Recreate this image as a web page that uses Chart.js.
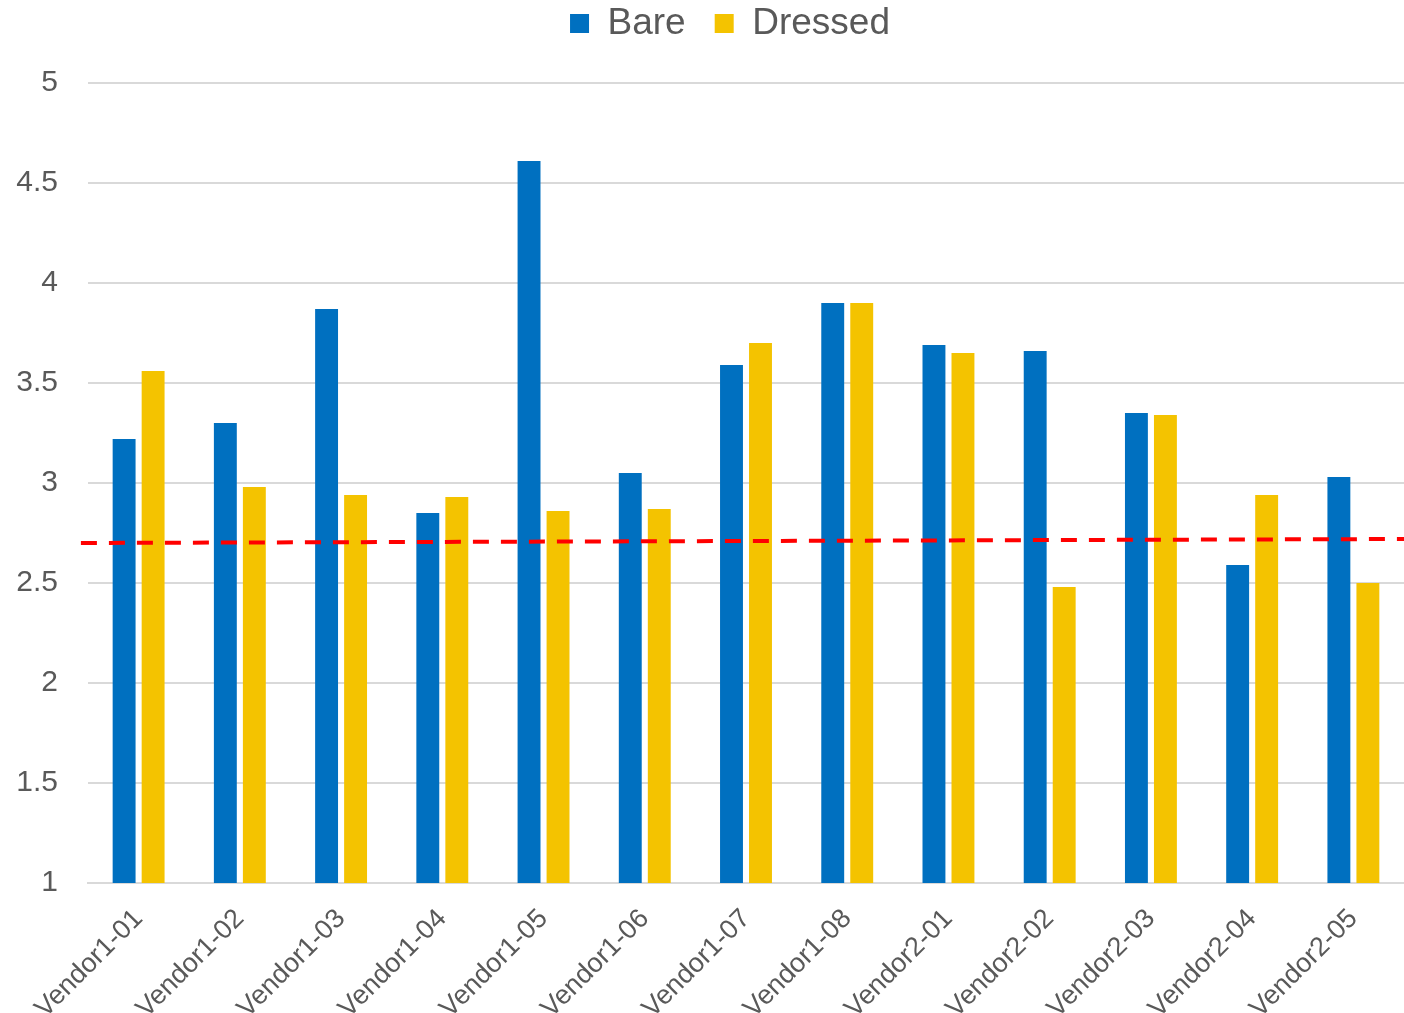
<!DOCTYPE html>
<html>
<head>
<meta charset="utf-8">
<script src="https://cdn.jsdelivr.net/npm/chart.js@4/dist/chart.umd.min.js"></script>
<style>
  html, body { margin: 0; padding: 0; background: #ffffff; }
  #wrap { width: 1404px; height: 1013px; }
</style>
</head>
<body>
<div id="wrap"><canvas id="chart"></canvas></div>
<script>
// Sample names along the x axis
const categories = [
  'Vendor1-01', 'Vendor1-02', 'Vendor1-03', 'Vendor1-04', 'Vendor1-05',
  'Vendor1-06', 'Vendor1-07', 'Vendor1-08', 'Vendor2-01', 'Vendor2-02',
  'Vendor2-03', 'Vendor2-04', 'Vendor2-05'
];

// Measured values per sample
const bareValues    = [3.22, 3.30, 3.87, 2.85, 4.61, 3.05, 3.59, 3.90, 3.69, 3.66, 3.35, 2.59, 3.03];
const dressedValues = [3.56, 2.98, 2.94, 2.93, 2.86, 2.87, 3.70, 3.90, 3.65, 2.48, 3.34, 2.94, 2.50];

// Reference threshold line: start/end positions (in category units) and values
const thresholdX = [-0.57, 12.5];
const thresholdY = [2.70, 2.72];

// Value axis ticks
const yTickValues = [1, 1.5, 2, 2.5, 3, 3.5, 4, 4.5, 5];

const textColor = '#595959';
const fontFamily = '"Liberation Sans", Arial, sans-serif';

const toPoints = (values) => values.map((v, i) => ({ x: i, y: v }));

// Legend placement: wider gap between items, tighter to the top edge,
// and a fixed distance to the plot area below
const legendSpacing = {
  id: 'legendSpacing',
  beforeInit(chart) {
    const originalFit = chart.legend.fit;
    chart.legend.fit = function () {
      originalFit.call(this);
      this.height += 7;
    };
  },
  afterLayout(chart) {
    const legend = chart.legend;
    legend.left += 56;
    legend.top -= 24;
  }
};

new Chart(document.getElementById('chart'), {
  type: 'bar',
  data: {
    datasets: [
      {
        label: 'Bare',
        data: toPoints(bareValues),
        backgroundColor: '#0070C0',
        categoryPercentage: 0.573,
        barPercentage: 0.79,
        order: 1
      },
      {
        label: 'Dressed',
        data: toPoints(dressedValues),
        backgroundColor: '#F4C300',
        categoryPercentage: 0.573,
        barPercentage: 0.79,
        order: 1
      },
      {
        type: 'line',
        label: 'Threshold',
        data: thresholdX.map((x, i) => ({ x: x, y: thresholdY[i] })),
        borderColor: '#FF0000',
        borderWidth: 4,
        borderDash: [16, 12],
        pointRadius: 0,
        fill: false,
        clip: false,
        order: 0
      }
    ]
  },
  plugins: [legendSpacing],
  options: {
    responsive: true,
    maintainAspectRatio: false,
    animation: false,
    layout: { padding: { top: 0, right: 0, left: 0, bottom: 0 } },
    plugins: {
      tooltip: { enabled: false },
      legend: {
        position: 'top',
        align: 'center',
        labels: {
          color: textColor,
          font: { family: fontFamily, size: 37 },
          boxWidth: 19,
          boxHeight: 19,
          padding: 29,
          filter: (item) => item.text !== 'Threshold'
        }
      }
    },
    scales: {
      x: {
        type: 'linear',
        min: -0.5,
        max: 12.5,
        offset: false,
        afterBuildTicks: (axis) => {
          axis.ticks = categories.map((_, i) => ({ value: i }));
        },
        afterFit: (axis) => { axis.height = 130; },
        grid: { display: false, drawTicks: false },
        border: { display: true, color: '#D9D9D9', width: 2 },
        ticks: {
          color: textColor,
          font: { family: fontFamily, size: 27 },
          maxRotation: 45,
          minRotation: 45,
          autoSkip: false,
          padding: 20,
          callback: (value) => categories[value]
        }
      },
      y: {
        min: 1,
        max: 5,
        afterBuildTicks: (axis) => {
          axis.ticks = yTickValues.map(v => ({ value: v }));
        },
        afterFit: (axis) => { axis.width = 88; },
        grid: { color: '#D9D9D9', lineWidth: 2, drawTicks: false },
        border: { display: false },
        ticks: {
          color: textColor,
          font: { family: fontFamily, size: 30 },
          padding: 30,
          callback: (value) => String(value)
        }
      }
    }
  }
});
</script>
</body>
</html>
